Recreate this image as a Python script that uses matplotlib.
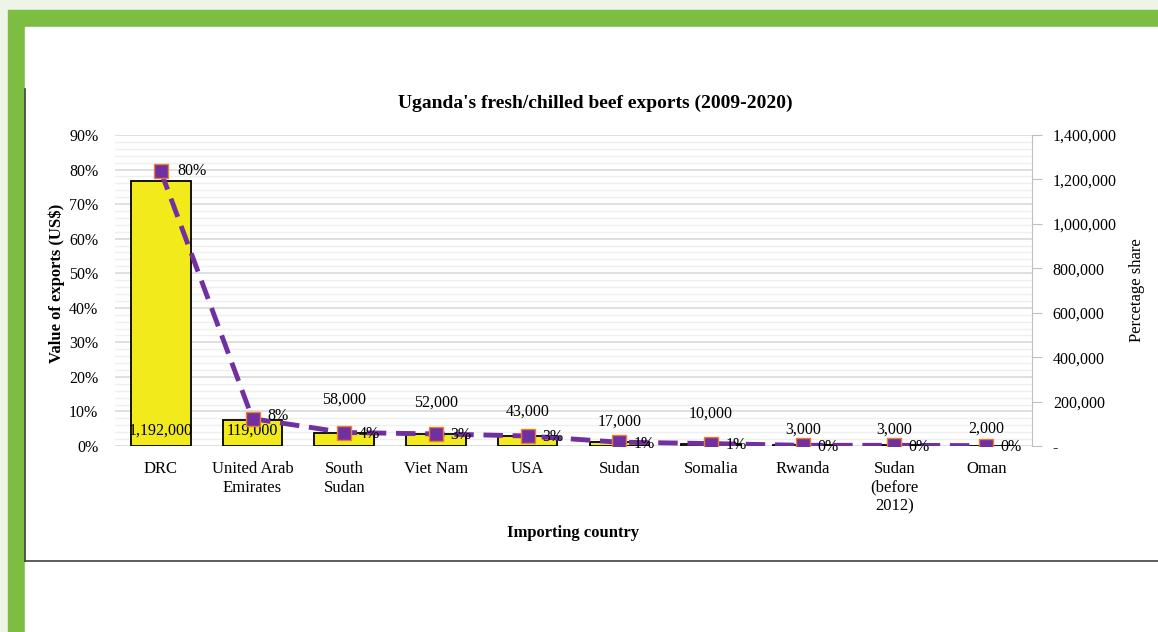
import matplotlib
matplotlib.use("Agg")
import matplotlib.pyplot as plt
from matplotlib.patches import Rectangle
from matplotlib.lines import Line2D
from matplotlib.ticker import FuncFormatter, MultipleLocator

countries = ["DRC", "United Arab\nEmirates", "South\nSudan", "Viet Nam", "USA",
             "Sudan", "Somalia", "Rwanda", "Sudan\n(before\n2012)", "Oman"]
export_values = [1192000, 119000, 58000, 52000, 43000, 17000, 10000, 3000, 3000, 2000]
share_pct = [79.5, 7.9, 3.9, 3.5, 2.9, 1.1, 0.7, 0.2, 0.2, 0.1]
share_labels = ["80%", "8%", "4%", "3%", "3%", "1%", "1%", "0%", "0%", "0%"]

# label placement (points above bar top; None = inside bar base)
value_offsets = [None, None, 24, 23, 18, 15, 22, 11, 11, 12]

W, H = 1158, 632
plt.rcParams["font.family"] = ["Liberation Serif", "DejaVu Serif"]

fig = plt.figure(figsize=(W / 100, H / 100), dpi=100)
fig.patch.set_facecolor("#eef5e8")


def px(x, y):
    return x / W, 1 - y / H


# frame decorations
fig.add_artist(Rectangle(px(8, H), (W - 8) / W, (H - 10) / H,
                         transform=fig.transFigure, color="#7dbd42", zorder=-3))
fig.add_artist(Rectangle(px(25, H), (W - 25) / W, (H - 27) / H,
                         transform=fig.transFigure, color="white", zorder=-2))
fig.add_artist(Line2D([25 / W, 25 / W], [1 - 89 / H, 1 - 561 / H],
                      transform=fig.transFigure, color="#404040", lw=1.2))
fig.add_artist(Line2D([25 / W, 1], [1 - 561 / H, 1 - 561 / H],
                      transform=fig.transFigure, color="#404040", lw=1.2))

left, right, top, bottom = 115, 1032, 135, 446
rect = [left / W, 1 - bottom / H, (right - left) / W, (bottom - top) / H]

# base axes: percent scale + gridlines
ax = fig.add_axes(rect)
ax.set_facecolor("none")
ax.set_xlim(-0.5, len(countries) - 0.5)
ax.set_ylim(0, 90)
ax.yaxis.set_major_locator(MultipleLocator(10))
ax.yaxis.set_minor_locator(MultipleLocator(2))
ax.yaxis.set_major_formatter(FuncFormatter(lambda v, p: f"{v:.0f}%"))
ax.grid(axis="y", which="major", color="#d9d9d9", lw=1.2)
ax.grid(axis="y", which="minor", color="#efefef", lw=1.0)
ax.tick_params(axis="y", which="both", length=0, labelsize=11.5, pad=12)
ax.set_xticks(range(len(countries)))
ax.set_xticklabels(countries, fontsize=12, linespacing=1.2)
ax.tick_params(axis="x", length=0, pad=11)
for s in ax.spines.values():
    s.set_visible(False)

# bars on value scale
axb = ax.twinx()
axb.set_ylim(0, 1400000)
axb.bar(range(len(countries)), export_values, width=0.65, color="#f2ea1a",
        edgecolor="black", linewidth=1.3)
axb.yaxis.set_major_locator(MultipleLocator(200000))
axb.yaxis.set_major_formatter(FuncFormatter(lambda v, p: "-" if v == 0 else f"{v:,.0f}"))
axb.tick_params(axis="y", length=7, color="#bfbfbf", labelsize=11.5, pad=8)
for name, s in axb.spines.items():
    s.set_visible(name == "right")
axb.spines["right"].set_color("#bfbfbf")

for i, (v, off) in enumerate(zip(export_values, value_offsets)):
    if off is None:
        axb.annotate(f"{v:,}", (i, 0), xytext=(0, 11), textcoords="offset points",
                     ha="center", va="center", fontsize=11.5)
    else:
        axb.annotate(f"{v:,}", (i, v), xytext=(0, off), textcoords="offset points",
                     ha="center", va="center", fontsize=11.5)

# share line
axl = ax.twinx()
axl.set_ylim(0, 90)
axl.set_yticks([])
for s in axl.spines.values():
    s.set_visible(False)
axl.plot(range(len(countries)), share_pct, color="#7030a0", lw=3.5,
         dashes=(4, 2), marker="s", markersize=10, markerfacecolor="#7030a0",
         markeredgecolor="#ed7d31", markeredgewidth=1.0)
for i, (p, lab) in enumerate(zip(share_pct, share_labels)):
    if i == 0:
        axl.annotate(lab, (i, p), xytext=(12, 0), textcoords="offset points",
                     ha="left", va="center", fontsize=11.5)
    else:
        dy = 2 if i == 1 else -1
        axl.annotate(lab, (i, p), xytext=(18, dy), textcoords="offset points",
                     ha="center", va="center", fontsize=11.5)

fig.text(595 / W, 1 - 103 / H, "Uganda's fresh/chilled beef exports (2009-2020)",
         ha="center", va="center", fontsize=14, fontweight="bold")
fig.text(573 / W, 1 - 533 / H, "Importing country", ha="center", va="center",
         fontsize=12, fontweight="bold")
fig.text(57 / W, 1 - 283 / H, "Value of exports (US$)", ha="center", va="center",
         rotation=90, fontsize=12, fontweight="bold")
fig.text(1137 / W, 1 - 290 / H, "Percetage share", ha="center", va="center",
         rotation=90, fontsize=12)

fig.savefig("out.png", dpi=100, facecolor=fig.get_facecolor())
